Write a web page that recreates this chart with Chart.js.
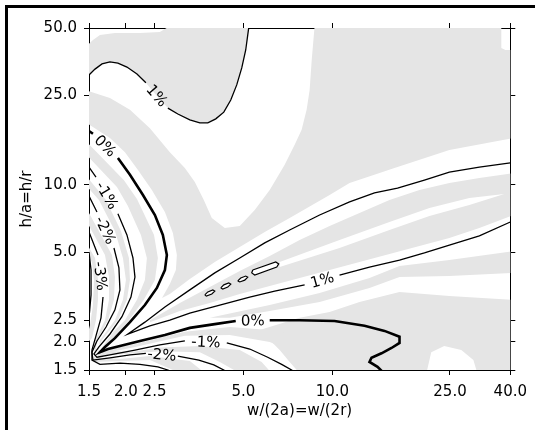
<!DOCTYPE html>
<html>
<head>
<meta charset="utf-8">
<script src="https://cdn.jsdelivr.net/npm/chart.js@4/dist/chart.umd.min.js"></script>
<style>
  html, body { margin: 0; padding: 0; background: #fff; }
  #moldura { position: absolute; left: 5px; top: 5px; width: 530px; height: 425px; border-left: 3px solid #000; border-top: 3px solid #000; box-sizing: border-box; }
  #graficoContorno { position: absolute; left: 0; top: 0; }
</style>
</head>
<body>
<div id="moldura"></div>
<canvas id="graficoContorno" width="535" height="430"></canvas>
<script>
const xTicks = [1.5, 2.0, 2.5, 5.0, 10.0, 25.0, 40.0];
const yTicks = [1.5, 2.0, 2.5, 5.0, 10.0, 25.0, 50.0];

// contour lines as [w, h] pairs, null = gap where the label goes
const linhaMais1Topo = [[1.5,30.9],[1.572,32.8],[1.66,34.6],[1.766,35.3],[1.879,34.9],[2.016,33.5],[2.18,31.2],[2.337,28.5],null,
  [2.774,22.0],[2.998,20.7],[3.291,19.5],[3.558,18.9],[3.787,18.9],[4.029,19.7],[4.289,21.1],[4.528,23.9],[4.744,27.9],[4.933,33.2],[5.088,39.9],[5.168,46.5],[5.208,50.0]];
const linhaZero = [[1.5,17.4],[1.547,16.9],null,[1.879,13.2],[2.064,11.1],[2.284,9.02],[2.507,7.35],[2.667,5.99],[2.752,4.88],[2.71,4.18],[2.546,3.48],[2.319,2.92],[2.064,2.45],[1.836,2.08],[1.699,1.90],[1.634,1.80],[1.74,1.86],[1.909,1.92],[2.231,2.02],[2.71,2.15],[3.291,2.31],[3.998,2.40],[4.707,2.48],null,
  [6.134,2.50],[7.746,2.50],[10.17,2.48],[12.84,2.36],[15.01,2.24],[16.87,2.11],[16.87,1.98],[15.85,1.88],[14.66,1.78],[13.56,1.70],[13.35,1.63],[14.21,1.55],[14.8,1.47]];
const linhaMenos1 = [[1.5,12.0],[1.584,10.85],null,[1.879,7.44],[2.016,5.99],[2.113,4.73],[2.146,3.89],[2.08,3.17],[1.939,2.59],[1.766,2.17],[1.621,1.90],[1.559,1.77],[1.596,1.71],[1.766,1.75],[2.146,1.84],[2.606,1.94],[3.166,2.02],null,
  [4.39,1.98],[5.25,1.86],[6.038,1.71],[6.733,1.59],[7.278,1.50],[7.51,1.46]];
const linhaMenos2 = [[1.5,8.93],[1.596,7.58],null,[1.822,5.24],[1.894,4.27],[1.909,3.41],[1.836,2.78],[1.713,2.33],[1.596,2.02],[1.535,1.80],[1.547,1.66],[1.766,1.70],[2.064,1.75],[2.337,1.78],null,
  [2.998,1.73],[3.53,1.66],[3.967,1.58],[4.289,1.50],[4.42,1.46]];
const linhaMenos3 = [[1.5,6.18],[1.609,4.88],null,[1.673,3.17],[1.647,2.56],[1.584,2.13],[1.535,1.84],[1.535,1.66],[1.634,1.59],[1.909,1.61],[2.231,1.59],[2.566,1.55],[2.774,1.50],[2.861,1.47]];
const linhaMenos4 = [[1.5,5.03],[1.524,4.18],[1.524,3.24],[1.5,2.56]];
const linhaMais1 = [[40.0,12.53],[31.43,12.02],[24.88,11.42],[20.48,10.52],[16.61,9.69],[13.88,9.22],[11.43,8.40],[9.05,7.35],[7.166,6.30],[5.90,5.52],[4.857,4.73],[3.998,4.06],[3.291,3.41],[2.71,2.86],[2.319,2.45],[2.031,2.17],
  [2.411,2.36],[2.817,2.50],[3.291,2.69],[4.157,2.92],[5.25,3.17],[6.377,3.37],[8.052,3.59],null,[10.57,3.97],[13.35,4.31],[16.87,4.63],[20.48,4.98],[24.88,5.40],[31.43,5.93],[40.0,6.84]];

// small closed 2% islands
const ilha1 = [[3.699,3.24],[3.787,3.34],[3.937,3.41],[3.998,3.37],[3.906,3.27],[3.743,3.20],[3.699,3.24]];
const ilha2 = [[4.189,3.48],[4.289,3.59],[4.458,3.66],[4.528,3.62],[4.424,3.51],[4.255,3.44],[4.189,3.48]];
const ilha3 = [[4.781,3.74],[4.895,3.85],[5.088,3.93],[5.168,3.89],[5.049,3.77],[4.857,3.70],[4.781,3.74]];
const ilha4 = [[5.374,4.18],[6.43,4.54],[6.58,4.45],[6.48,4.31],[5.458,3.97],[5.332,4.06],[5.374,4.18]];

// filled bands (grey) and white streaks
const faixaTopo = [[1.45,40.7],[1.547,44.2],[1.634,46.5],[1.836,47.5],[2.231,47.5],[2.606,48.0],[2.817,51],[5.33,51],[5.208,50.0],[5.168,46.5],[5.088,39.9],[4.933,33.2],[4.744,27.9],[4.528,23.9],[4.289,21.1],[4.029,19.7],[3.787,18.9],[3.558,18.9],[3.291,19.5],[2.998,20.7],[2.774,22.0],[2.546,24.9],[2.337,28.5],[2.18,31.2],[2.016,33.5],[1.879,34.9],[1.766,35.3],[1.66,34.6],[1.572,32.8],[1.5,30.9],[1.45,30.9]];
const faixaGrande = [[1.45,26.5],[1.766,24.4],[2.064,21.6],[2.411,17.9],[2.817,14.0],[3.166,11.9],[3.422,10.3],[3.67,8.57],[3.906,7.13],[4.322,6.44],[4.857,6.57],[5.458,7.74],[6.134,9.50],[6.893,12.3],[7.451,15.1],[7.867,17.6],[8.178,21.6],[8.373,26.5],[8.51,36.0],[8.704,51],[37.29,51],[37.29,40.7],[38.5,39.9],[41,39.9],[41,16.2],
  [24.88,14.3],[16.22,11.9],[11.43,10.2],[9.782,9.02],[7.166,7.13],[5.90,6.18],[4.857,5.29],[3.998,4.54],[3.291,3.81],[2.817,3.27],[2.65,3.14],[2.817,3.62],[2.952,4.18],[2.975,4.88],[2.884,6.11],[2.71,7.58],[2.448,9.50],[2.197,11.66],[1.985,14.0],[1.766,16.2],[1.45,19.1]];
const faixaN1 = [[1.45,15.9],[1.97,10.5],[2.18,8.66],[2.49,5.99],[2.566,4.73],[2.507,3.77],[2.30,3.08],[2.048,2.50],[1.794,2.04],[1.66,1.82],[1.909,1.90],[2.146,1.96],[3.166,2.22],[4.493,2.33],[6.134,2.26],[7.166,2.19],
  [7.166,1.84],[6.134,2.00],[4.493,2.15],[3.166,2.13],[2.146,1.90],[1.766,1.80],[1.647,1.86],[1.822,2.24],[1.985,2.50],[2.18,3.08],[2.319,3.77],[2.355,4.73],[2.248,5.99],[2.031,8.06],[1.865,9.80],[1.45,13.9]];
const faixaN2 = [[1.45,11.2],[1.712,8.57],[1.924,6.24],[2.048,4.73],[2.064,3.77],[2.016,3.08],[1.879,2.50],[1.66,2.04],[1.596,1.84],[2.064,1.80],[2.606,1.89],[3.558,1.92],[4.857,1.84],[5.762,1.63],[6.23,1.45],
  [4.857,1.45],[4.157,1.63],[3.558,1.80],[2.606,1.82],[2.064,1.775],[1.609,1.73],[1.634,2.04],[1.836,2.50],[1.954,3.08],[2.0,3.77],[1.954,4.73],[1.836,6.24],[1.621,8.57],[1.45,10.1]];
const faixaN3 = [[1.45,8.14],[1.794,4.88],[1.836,3.89],[1.822,3.08],[1.74,2.50],[1.596,2.04],[1.572,1.71],[1.909,1.68],[2.411,1.73],[3.291,1.645],[3.699,1.455],
  [3.045,1.455],[2.411,1.66],[1.909,1.645],[1.559,1.63],[1.572,2.04],[1.699,2.50],[1.753,3.08],[1.753,3.89],[1.699,4.88],[1.45,7.13]];
const faixaN4 = [[1.45,5.69],[1.572,4.73],[1.609,3.77],[1.609,3.08],[1.584,2.50],[1.535,2.08],[1.45,1.92],[1.512,2.38],[1.547,2.92],[1.559,3.77],[1.535,4.54],[1.45,5.03]];
const faixaCunha = [[2.411,2.50],[3.045,2.98],[3.846,3.51],[4.857,4.14],[6.134,4.83],[7.746,5.69],[9.782,6.57],[12.35,7.50],[15.60,8.57],[19.70,9.50],[24.88,10.2],[31.43,10.74],[41,11.3],
  [41,7.35],[31.43,6.44],[24.88,5.81],[19.70,5.35],[15.60,4.93],[12.35,4.54],[9.782,4.18],[7.746,3.85],[6.134,3.55],[4.857,3.27],[3.846,2.98],[3.045,2.75],[2.411,2.45]];
const riscoBranco = [[6.63,4.54],[10.57,5.69],[15.60,6.84],[21.30,7.90],[29.07,8.75],[38.18,9.12],[29.07,8.14],[21.30,7.28],[15.60,6.30],[10.57,5.24],[6.63,4.31]];
const faixaB1 = [[3.846,2.56],[6.134,2.92],[9.05,3.30],[13.35,3.85],[16.87,4.36],[24.88,4.63],[41,5.08],[41,4.06],[24.88,3.93],[16.87,3.89],[13.35,3.48],[9.05,3.01],[6.134,2.75],[4.493,2.56]];
const faixaB2 = [[7.746,2.56],[9.782,2.72],[12.35,3.01],[16.87,3.34],[24.88,3.20],[41,3.08],[41,1.45],[30.94,1.45],[30.0,1.66],[27.3,1.84],[23.9,1.92],[21.6,1.80],[20.8,1.45],[7.746,1.45],[7.166,1.63],[6.63,1.84],[6.134,2.04],[5.674,2.26]];

const cinza = "#e5e5e5";

const paraPontos = (pares) => pares.map((p, i) => p ? { x: p[0], y: p[1] } : { x: pares[i - 1][0], y: null });

function preenchido(pares, cor, ordem) {
  return { data: paraPontos(pares), showLine: true, fill: "shape", backgroundColor: cor, borderWidth: 0, pointRadius: 0, order: ordem };
}

function contorno(pares, largura, rotulos) {
  return { data: paraPontos(pares), showLine: true, fill: false, borderColor: "#000", borderWidth: largura, pointRadius: 0, order: 10, rotulos: rotulos || [] };
}

function ilha(pares) {
  return { data: paraPontos(pares), showLine: true, fill: "shape", backgroundColor: "#fff", borderColor: "#000", borderWidth: 1.2, pointRadius: 0, order: 5 };
}

const rotulosContorno = {
  id: "rotulosContorno",
  afterDatasetsDraw(chart) {
    const ctx = chart.ctx;
    const sx = chart.scales.x, sy = chart.scales.y;
    ctx.save();
    ctx.font = '15px "DejaVu Sans"';
    ctx.fillStyle = "#000";
    ctx.textAlign = "center";
    ctx.textBaseline = "middle";
    chart.data.datasets.forEach((ds) => {
      if (!ds.rotulos || !ds.rotulos.length) return;
      let k = 0;
      ds.data.forEach((p, i) => {
        if (p.y !== null || k >= ds.rotulos.length) return;
        const a = ds.data[i - 1], b = ds.data[i + 1];
        const x1 = sx.getPixelForValue(a.x), y1 = sy.getPixelForValue(a.y);
        const x2 = sx.getPixelForValue(b.x), y2 = sy.getPixelForValue(b.y);
        let ang = Math.atan2(y2 - y1, x2 - x1);
        if (ang > Math.PI / 2) ang -= Math.PI;
        if (ang < -Math.PI / 2) ang += Math.PI;
        ctx.save();
        ctx.translate((x1 + x2) / 2, (y1 + y2) / 2);
        ctx.rotate(ang);
        ctx.fillText(ds.rotulos[k], 0, 1);
        ctx.restore();
        k++;
      });
    });
    ctx.restore();
  }
};

Chart.defaults.font.family = "DejaVu Sans";
Chart.defaults.font.size = 15;
Chart.defaults.color = "#000";

const grade = { drawOnChartArea: false, drawTicks: true, tickLength: 5, tickColor: "#000", tickWidth: 1 };
const borda = { display: true, color: "#000", width: 1 };
const fmt = (v) => Number(v).toFixed(1);

new Chart(document.getElementById("graficoContorno"), {
  type: "scatter",
  data: {
    datasets: [
      preenchido(faixaTopo, cinza, 100),
      preenchido(faixaGrande, cinza, 100),
      preenchido(faixaN1, cinza, 90),
      preenchido(faixaN2, cinza, 90),
      preenchido(faixaN3, cinza, 90),
      preenchido(faixaN4, cinza, 90),
      preenchido(faixaCunha, cinza, 90),
      preenchido(faixaB1, cinza, 90),
      preenchido(faixaB2, cinza, 90),
      preenchido(riscoBranco, "#fff", 80),
      contorno(linhaMais1Topo, 1.3, ["1%"]),
      contorno(linhaMais1, 1.3, ["1%"]),
      contorno(linhaZero, 2.6, ["0%", "0%"]),
      contorno(linhaMenos1, 1.3, ["-1%", "-1%"]),
      contorno(linhaMenos2, 1.3, ["-2%", "-2%"]),
      contorno(linhaMenos3, 1.3, ["-3%"]),
      contorno(linhaMenos4, 1.3),
      ilha(ilha1),
      ilha(ilha2),
      ilha(ilha3),
      ilha(ilha4),
    ],
  },
  options: {
    responsive: false,
    animation: false,
    events: [],
    layout: { padding: 0 },
    plugins: { legend: { display: false }, tooltip: { enabled: false } },
    scales: {
      x: {
        type: "logarithmic", position: "bottom", min: 1.5, max: 40,
        afterBuildTicks: (s) => { s.ticks = xTicks.map((v) => ({ value: v })); },
        afterFit: (s) => { s.height = 60; },
        ticks: { autoSkip: false, maxRotation: 0, minRotation: 0, padding: 8, callback: fmt },
        grid: grade, border: borda,
        title: { display: true, text: "w/(2a)=w/(2r)", font: { size: 15 }, padding: { top: 0, bottom: 10 } },
      },
      x2: {
        type: "logarithmic", position: "top", min: 1.5, max: 40,
        afterBuildTicks: (s) => { s.ticks = xTicks.map((v) => ({ value: v })); },
        afterFit: (s) => { s.height = 28; },
        ticks: { display: false },
        grid: grade, border: borda,
      },
      y: {
        type: "logarithmic", position: "left", min: 1.5, max: 50,
        afterBuildTicks: (s) => { s.ticks = yTicks.map((v) => ({ value: v })); },
        afterFit: (s) => { s.width = 89; },
        ticks: { autoSkip: false, padding: 7, callback: fmt },
        grid: grade, border: borda,
        title: { display: true, text: "h/a=h/r", font: { size: 15 }, padding: { top: 18, bottom: 0 } },
      },
      y2: {
        type: "logarithmic", position: "right", min: 1.5, max: 50,
        afterBuildTicks: (s) => { s.ticks = yTicks.map((v) => ({ value: v })); },
        afterFit: (s) => { s.width = 24; },
        ticks: { display: false },
        grid: grade, border: borda,
      },
    },
  },
  plugins: [rotulosContorno],
});
</script>
</body>
</html>
